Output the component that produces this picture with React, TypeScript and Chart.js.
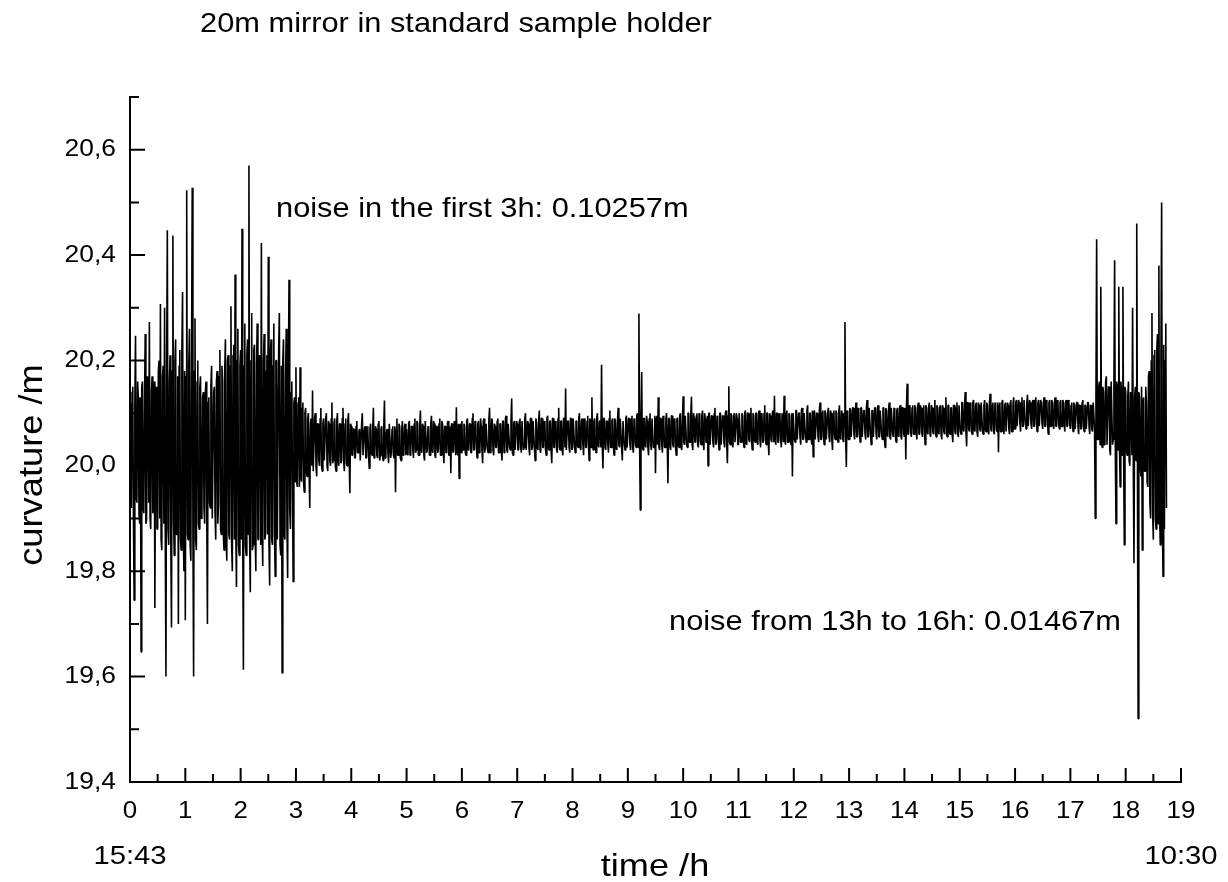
import React, { useEffect, useRef } from "react";
import { Chart, registerables } from "chart.js";

Chart.register(...registerables);

// ---- text ----
const titleText = "20m mirror in standard sample holder";
const noteFirst = "noise in the first 3h: 0.10257m";
const noteLater = "noise from 13h to 16h: 0.01467m";
const xAxisTitle = "time /h";
const yAxisTitle = "curvature /m";
const startClock = "15:43";
const endClock = "10:30";

// ---- ticks ----
const xMajorTicks = [0, 1, 2, 3, 4, 5, 6, 7, 8, 9, 10, 11, 12, 13, 14, 15, 16, 17, 18, 19];
const xMinorTicks = [0.5, 1.5, 2.5, 3.5, 4.5, 5.5, 6.5, 7.5, 8.5, 9.5, 10.5, 11.5, 12.5, 13.5, 14.5, 15.5, 16.5, 17.5, 18.5];
const yMajorTicks = [19.4, 19.6, 19.8, 20.0, 20.2, 20.4, 20.6];
const yMajorLabels = ["19,4", "19,6", "19,8", "20,0", "20,2", "20,4", "20,6"];
const yMinorTicks = [19.5, 19.7, 19.9, 20.1, 20.3, 20.5, 20.7];

// ---- data: curvature (m), one block per hour, 80 samples per hour ----
const samplesPerHour = 80;

const h00 = [20.12, 19.93, 19.92, 20.14, 20.15, 19.90, 19.745, 20.11, 20.247, 19.94,
  19.93, 20.16, 20.13, 19.91, 19.89, 20.13, 19.647, 20.15, 20.16, 19.92,
  19.91, 20.12, 20.25, 19.89, 19.90, 20.17, 20.14, 19.93, 20.273, 19.90,
  19.88, 20.14, 20.17, 19.91, 19.93, 20.16, 19.73, 20.13, 20.15, 19.88,
  19.88, 20.18, 20.20, 19.90, 20.307, 19.86, 19.84, 20.17, 20.19, 19.89,
  20.30, 19.87, 19.60, 20.19, 20.447, 19.88, 19.85, 20.16, 20.21, 19.86,
  19.693, 20.18, 20.437, 19.90, 19.83, 20.20, 20.24, 19.87, 19.87, 20.17,
  19.70, 20.19, 20.22, 19.86, 19.84, 20.21, 20.33, 19.88, 19.80, 20.18];
const h01 = [19.707, 20.17, 20.523, 19.87, 19.86, 20.19, 20.26, 19.85, 19.82, 20.20,
  20.528, 19.88, 19.60, 20.18, 20.28, 19.86, 19.84, 20.16, 20.20, 19.89,
  19.88, 20.15, 20.17, 19.90, 19.91, 20.13, 20.14, 19.92, 19.89, 20.14,
  20.16, 19.91, 19.70, 20.12, 20.13, 19.93, 19.92, 20.15, 20.19, 19.90,
  19.90, 20.14, 20.15, 19.91, 19.86, 20.16, 20.18, 19.89, 19.93, 20.17,
  20.22, 19.88, 19.87, 20.19, 20.16, 19.87, 19.84, 20.18, 20.24, 19.86,
  19.82, 20.20, 20.21, 19.87, 19.86, 20.19, 20.303, 19.85, 19.80, 20.21,
  20.23, 19.86, 20.363, 19.88, 19.77, 20.20, 20.26, 19.85, 19.83, 20.19];
const h02 = [20.22, 19.86, 20.45, 19.88, 19.613, 20.19, 20.27, 19.85, 19.83, 20.21,
  20.24, 19.87, 20.57, 19.86, 19.76, 20.20, 20.29, 19.84, 19.85, 20.22,
  20.23, 19.87, 19.80, 20.19, 20.27, 19.86, 19.86, 20.21, 20.20, 19.85,
  20.423, 19.88, 19.81, 20.20, 20.25, 19.86, 19.87, 20.18, 20.21, 19.87,
  20.397, 19.85, 19.773, 20.21, 20.24, 19.86, 19.85, 20.19, 20.27, 19.87,
  19.79, 20.20, 20.20, 19.86, 19.86, 20.22, 20.29, 19.85, 19.83, 20.19,
  19.607, 20.20, 20.24, 19.87, 19.86, 20.17, 20.26, 19.88, 19.787, 20.16,
  20.353, 19.92, 19.88, 20.14, 20.16, 19.95, 19.78, 20.12, 20.13, 19.97];
const h03 = [20.187, 19.97, 19.96, 20.12, 20.13, 19.96, 20.187, 19.98, 19.97, 20.11,
  20.12, 19.97, 19.95, 20.10, 20.11, 19.99, 19.98, 20.09, 20.10, 19.99,
  19.92, 20.08, 20.09, 20.00, 20.143, 19.99, 19.99, 20.09, 20.10, 20.00,
  19.98, 20.08, 20.08, 20.01, 20.00, 20.09, 20.11, 20.00, 19.99, 20.08,
  20.09, 20.01, 20.01, 20.09, 20.10, 20.00, 19.99, 20.085, 20.08, 20.01,
  20.00, 20.09, 20.12, 20.005, 20.01, 20.08, 20.09, 20.00, 19.99, 20.085,
  20.10, 20.01, 20.00, 20.08, 20.08, 20.005, 20.01, 20.09, 20.11, 20.01,
  19.99, 20.08, 20.09, 20.005, 20.00, 20.085, 20.10, 20.01, 19.948, 20.08];
const h04 = [20.075, 20.02, 20.02, 20.07, 20.07, 20.015, 20.015, 20.075, 20.085, 20.025,
  20.025, 20.065, 20.07, 20.01, 20.01, 20.08, 20.10, 20.02, 20.02, 20.07,
  20.075, 20.015, 20.015, 20.075, 20.065, 20.02, 19.995, 20.07, 20.08, 20.025,
  20.02, 20.065, 20.11, 20.015, 20.025, 20.075, 20.07, 20.02, 20.015, 20.08,
  20.085, 20.01, 20.02, 20.07, 20.075, 20.02, 20.01, 20.075, 20.124, 20.015,
  20.02, 20.065, 20.07, 20.025, 20.005, 20.08, 20.08, 20.015, 20.025, 20.07,
  20.075, 20.02, 20.015, 20.075, 19.95, 20.07, 20.09, 20.02, 20.02, 20.08,
  20.075, 20.015, 20.01, 20.07, 20.085, 20.02, 20.025, 20.075, 20.08, 20.02];
const h05 = [20.07, 20.025, 20.02, 20.08, 20.085, 20.02, 20.025, 20.075, 20.075, 20.03,
  20.015, 20.08, 20.09, 20.025, 20.03, 20.085, 20.08, 20.02, 20.02, 20.075,
  20.105, 20.03, 20.025, 20.08, 20.075, 20.02, 20.01, 20.085, 20.085, 20.025,
  20.03, 20.075, 20.07, 20.02, 20.02, 20.08, 20.095, 20.03, 20.025, 20.085,
  20.08, 20.02, 20.015, 20.075, 20.075, 20.025, 20.03, 20.08, 20.09, 20.02,
  20.02, 20.085, 20.08, 20.03, 20.005, 20.075, 20.075, 20.025, 20.025, 20.08,
  20.085, 20.02, 20.02, 20.075, 19.986, 20.08, 20.08, 20.025, 20.03, 20.085,
  20.075, 20.02, 20.111, 20.03, 20.02, 20.08, 19.976, 20.075, 20.08, 20.025];
const h06 = [20.085, 20.03, 20.03, 20.08, 20.075, 20.025, 20.02, 20.085, 20.09, 20.03,
  20.035, 20.08, 20.08, 20.025, 20.025, 20.09, 20.10, 20.03, 20.03, 20.085,
  20.08, 20.035, 20.015, 20.08, 20.085, 20.025, 20.03, 20.09, 20.075, 20.03,
  20.005, 20.085, 20.09, 20.025, 20.035, 20.08, 20.08, 20.03, 20.025, 20.085,
  20.11, 20.025, 20.03, 20.09, 20.085, 20.03, 20.02, 20.08, 20.075, 20.035,
  20.035, 20.085, 20.09, 20.025, 20.025, 20.08, 20.08, 20.03, 20.01, 20.085,
  20.085, 20.025, 20.03, 20.09, 20.095, 20.03, 20.025, 20.08, 20.08, 20.035,
  20.03, 20.085, 20.128, 20.025, 20.02, 20.08, 20.085, 20.03, 20.03, 20.085];
const h07 = [20.08, 20.03, 20.03, 20.085, 20.09, 20.035, 20.025, 20.085, 20.085, 20.03,
  20.035, 20.09, 20.10, 20.03, 20.03, 20.085, 20.08, 20.035, 20.02, 20.09,
  20.09, 20.03, 20.035, 20.085, 20.085, 20.03, 20.01, 20.09, 20.08, 20.035,
  20.03, 20.085, 20.105, 20.03, 20.025, 20.09, 20.09, 20.035, 20.035, 20.085,
  20.08, 20.03, 20.02, 20.09, 20.095, 20.035, 20.03, 20.085, 20.085, 20.03,
  20.005, 20.09, 20.09, 20.035, 20.035, 20.085, 20.08, 20.03, 20.025, 20.09,
  20.11, 20.035, 20.03, 20.085, 20.085, 20.03, 20.02, 20.09, 20.09, 20.035,
  20.147, 20.03, 20.03, 20.085, 20.085, 20.035, 20.025, 20.09, 20.09, 20.03];
const h08 = [20.035, 20.09, 20.09, 20.035, 20.025, 20.085, 20.085, 20.04, 20.035, 20.09,
  20.10, 20.035, 20.03, 20.085, 20.09, 20.04, 20.02, 20.09, 20.085, 20.035,
  20.035, 20.085, 20.095, 20.04, 20.01, 20.09, 20.085, 20.035, 20.13, 20.04,
  20.03, 20.085, 20.09, 20.035, 20.025, 20.09, 20.10, 20.04, 20.035, 20.085,
  20.085, 20.035, 20.192, 20.04, 19.995, 20.09, 20.09, 20.035, 20.03, 20.085,
  20.085, 20.04, 20.025, 20.09, 20.105, 20.035, 20.035, 20.085, 20.09, 20.04,
  20.02, 20.09, 20.085, 20.035, 20.03, 20.085, 20.11, 20.04, 20.035, 20.09,
  20.09, 20.035, 20.01, 20.085, 20.085, 20.04, 20.03, 20.09, 20.095, 20.035];
const h09 = [20.035, 20.09, 20.09, 20.04, 20.03, 20.09, 20.095, 20.035, 20.025, 20.09,
  20.085, 20.04, 20.035, 20.095, 20.10, 20.035, 20.289, 20.04, 19.916, 20.09,
  20.178, 20.035, 20.03, 20.09, 20.09, 20.04, 20.035, 20.095, 20.085, 20.035,
  20.02, 20.09, 20.10, 20.04, 20.03, 20.09, 20.09, 20.035, 20.035, 20.095,
  19.986, 20.09, 20.095, 20.04, 20.13, 20.035, 20.03, 20.09, 20.09, 20.04,
  20.025, 20.095, 20.085, 20.035, 20.035, 20.09, 20.10, 20.04, 19.967, 20.09,
  20.09, 20.035, 20.03, 20.095, 20.095, 20.04, 20.035, 20.09, 20.085, 20.035,
  20.02, 20.09, 20.09, 20.04, 20.035, 20.095, 20.10, 20.035, 20.03, 20.09];
const h10 = [20.132, 20.045, 20.04, 20.095, 20.095, 20.04, 20.035, 20.10, 20.10, 20.045,
  20.045, 20.095, 20.131, 20.04, 20.03, 20.10, 20.09, 20.045, 20.045, 20.095,
  20.10, 20.04, 20.035, 20.10, 20.095, 20.045, 20.04, 20.095, 20.105, 20.04,
  20.03, 20.10, 20.09, 20.045, 20.045, 20.095, 20.00, 20.10, 20.10, 20.04,
  20.04, 20.095, 20.095, 20.045, 20.035, 20.10, 20.11, 20.04, 20.045, 20.095,
  20.09, 20.045, 20.03, 20.10, 20.10, 20.04, 20.04, 20.095, 20.095, 20.045,
  20.035, 20.10, 20.105, 20.04, 20.005, 20.095, 20.151, 20.045, 20.04, 20.10,
  20.095, 20.04, 20.035, 20.095, 20.10, 20.045, 20.045, 20.10, 20.09, 20.04];
const h11 = [20.04, 20.10, 20.10, 20.045, 20.045, 20.10, 20.095, 20.05, 20.035, 20.10,
  20.105, 20.045, 20.04, 20.10, 20.10, 20.05, 20.045, 20.10, 20.11, 20.045,
  20.03, 20.10, 20.095, 20.05, 20.045, 20.10, 20.10, 20.045, 20.04, 20.10,
  20.105, 20.05, 20.035, 20.10, 20.095, 20.045, 20.045, 20.10, 20.115, 20.05,
  20.04, 20.10, 20.10, 20.045, 20.02, 20.10, 20.095, 20.05, 20.045, 20.10,
  20.105, 20.045, 20.133, 20.05, 20.04, 20.10, 20.10, 20.045, 20.045, 20.10,
  20.095, 20.05, 20.035, 20.10, 20.10, 20.045, 20.133, 20.05, 20.04, 20.10,
  20.105, 20.045, 20.045, 20.10, 20.095, 20.05, 20.04, 20.10, 19.98, 20.10];
const h12 = [20.10, 20.05, 20.045, 20.105, 20.105, 20.05, 20.05, 20.10, 20.10, 20.055,
  20.04, 20.105, 20.11, 20.05, 20.05, 20.10, 20.10, 20.055, 20.045, 20.105,
  20.115, 20.05, 20.05, 20.10, 20.10, 20.055, 20.04, 20.105, 20.017, 20.10,
  20.105, 20.05, 20.05, 20.10, 20.10, 20.055, 20.045, 20.105, 20.12, 20.05,
  20.05, 20.10, 20.105, 20.055, 20.04, 20.105, 20.10, 20.05, 20.05, 20.10,
  20.11, 20.055, 20.045, 20.105, 20.10, 20.05, 20.03, 20.10, 20.105, 20.055,
  20.05, 20.105, 20.10, 20.05, 20.045, 20.10, 20.115, 20.055, 20.05, 20.105,
  20.10, 20.05, 20.045, 20.10, 20.273, 20.055, 19.998, 20.105, 20.10, 20.05];
const h13 = [20.05, 20.11, 20.105, 20.055, 20.055, 20.11, 20.11, 20.06, 20.05, 20.105,
  20.12, 20.055, 20.055, 20.11, 20.105, 20.06, 20.045, 20.11, 20.11, 20.055,
  20.055, 20.105, 20.105, 20.06, 20.05, 20.11, 20.125, 20.055, 20.055, 20.11,
  20.11, 20.06, 20.04, 20.105, 20.105, 20.055, 20.055, 20.11, 20.11, 20.06,
  20.05, 20.11, 20.115, 20.055, 20.055, 20.105, 20.105, 20.06, 20.05, 20.11,
  20.11, 20.055, 20.035, 20.11, 20.105, 20.06, 20.055, 20.105, 20.12, 20.055,
  20.05, 20.11, 20.11, 20.06, 20.055, 20.11, 20.105, 20.055, 20.045, 20.105,
  20.11, 20.06, 20.055, 20.11, 20.115, 20.055, 20.05, 20.11, 20.11, 20.06];
const h14 = [20.055, 20.11, 20.012, 20.115, 20.156, 20.06, 20.06, 20.115, 20.11, 20.065,
  20.055, 20.11, 20.115, 20.06, 20.06, 20.115, 20.11, 20.065, 20.05, 20.11,
  20.12, 20.06, 20.06, 20.115, 20.11, 20.065, 20.055, 20.11, 20.115, 20.06,
  20.04, 20.115, 20.11, 20.065, 20.06, 20.11, 20.12, 20.06, 20.055, 20.115,
  20.11, 20.065, 20.06, 20.11, 20.125, 20.06, 20.055, 20.115, 20.11, 20.065,
  20.06, 20.11, 20.115, 20.06, 20.05, 20.115, 20.11, 20.065, 20.06, 20.11,
  20.13, 20.06, 20.055, 20.115, 20.115, 20.065, 20.06, 20.11, 20.11, 20.06,
  20.045, 20.115, 20.115, 20.065, 20.06, 20.11, 20.12, 20.06, 20.055, 20.115];
const h15 = [20.115, 20.065, 20.06, 20.12, 20.12, 20.07, 20.065, 20.115, 20.14, 20.065,
  20.037, 20.12, 20.12, 20.07, 20.065, 20.12, 20.115, 20.065, 20.06, 20.12,
  20.125, 20.07, 20.065, 20.115, 20.12, 20.065, 20.055, 20.12, 20.115, 20.07,
  20.065, 20.12, 20.12, 20.065, 20.06, 20.115, 20.125, 20.07, 20.065, 20.12,
  20.115, 20.065, 20.06, 20.12, 20.137, 20.07, 20.065, 20.115, 20.12, 20.065,
  20.06, 20.12, 20.115, 20.07, 20.065, 20.12, 20.026, 20.115, 20.12, 20.065,
  20.065, 20.12, 20.125, 20.07, 20.06, 20.115, 20.12, 20.065, 20.065, 20.12,
  20.115, 20.07, 20.06, 20.12, 20.125, 20.065, 20.065, 20.115, 20.13, 20.07];
const h16 = [20.07, 20.12, 20.125, 20.075, 20.075, 20.125, 20.12, 20.08, 20.065, 20.12,
  20.13, 20.075, 20.075, 20.125, 20.125, 20.08, 20.07, 20.12, 20.135, 20.075,
  20.075, 20.125, 20.12, 20.08, 20.07, 20.12, 20.125, 20.075, 20.075, 20.125,
  20.13, 20.08, 20.065, 20.12, 20.125, 20.075, 20.075, 20.125, 20.12, 20.08,
  20.07, 20.12, 20.13, 20.075, 20.075, 20.125, 20.12, 20.08, 20.06, 20.12,
  20.125, 20.075, 20.075, 20.125, 20.12, 20.08, 20.07, 20.12, 20.13, 20.075,
  20.075, 20.125, 20.12, 20.08, 20.07, 20.12, 20.125, 20.075, 20.075, 20.125,
  20.12, 20.08, 20.065, 20.12, 20.125, 20.075, 20.075, 20.125, 20.12, 20.08];
const h17 = [20.07, 20.115, 20.12, 20.075, 20.065, 20.12, 20.115, 20.07, 20.07, 20.12,
  20.12, 20.075, 20.06, 20.115, 20.115, 20.07, 20.07, 20.12, 20.125, 20.075,
  20.065, 20.115, 20.115, 20.07, 20.07, 20.12, 20.12, 20.075, 20.06, 20.115,
  20.115, 20.07, 20.065, 20.12, 20.12, 20.07, 19.90, 20.13, 20.43, 20.05,
  20.05, 20.15, 20.16, 20.04, 20.34, 20.05, 20.035, 20.15, 20.14, 20.04,
  20.05, 20.16, 20.17, 20.04, 20.04, 20.15, 20.15, 20.03, 20.02, 20.16,
  20.16, 20.04, 20.05, 20.15, 20.39, 20.03, 19.89, 20.16, 20.15, 20.03,
  20.34, 20.04, 19.96, 20.16, 20.14, 20.02, 20.34, 20.03, 19.85, 20.15];
const h18 = [20.14, 20.03, 20.02, 20.13, 20.16, 20.01, 20.00, 20.14, 20.12, 20.02,
  20.30, 20.00, 19.815, 20.13, 20.15, 20.01, 20.46, 20.02, 19.52, 20.14,
  20.13, 20.00, 19.98, 20.15, 19.84, 20.12, 20.13, 19.99, 19.99, 20.15,
  20.12, 19.97, 19.96, 20.17, 20.18, 19.93, 19.90, 20.20, 20.29, 19.91,
  19.86, 20.21, 20.22, 19.90, 19.88, 20.22, 20.25, 19.89, 20.38, 19.92,
  19.85, 20.21, 20.50, 19.90, 19.79, 20.23, 19.88, 20.20, 20.27, 19.92];

const hourBlocks = [h00, h01, h02, h03, h04, h05, h06, h07, h08, h09, h10, h11, h12, h13, h14, h15, h16, h17, h18];

const FONT = "'Liberation Sans', Arial, Helvetica, sans-serif";

function drawStretched(
  ctx: CanvasRenderingContext2D,
  text: string,
  x: number,
  y: number,
  size: number,
  sx: number,
  align: "left" | "center" | "right",
  baseline: CanvasTextBaseline = "alphabetic"
) {
  ctx.save();
  ctx.font = `${size}px ${FONT}`;
  ctx.textBaseline = baseline;
  ctx.textAlign = "left";
  const w = ctx.measureText(text).width * sx;
  const left = align === "center" ? x - w / 2 : align === "right" ? x - w : x;
  ctx.translate(left, y);
  ctx.scale(sx, 1);
  ctx.fillStyle = "#000";
  ctx.fillText(text, 0, 0);
  ctx.restore();
}

const axesPlugin = {
  id: "originAxes",
  afterDraw(chart: any) {
    const ctx: CanvasRenderingContext2D = chart.ctx;
    const xs = chart.scales.x;
    const ys = chart.scales.y;
    const x0 = xs.getPixelForValue(0);
    const x1 = xs.getPixelForValue(19);
    const yb = ys.getPixelForValue(19.4);
    const yt = ys.getPixelForValue(20.7);
    ctx.save();
    ctx.strokeStyle = "#000";
    ctx.lineWidth = 2;
    ctx.lineCap = "butt";
    ctx.beginPath();
    ctx.moveTo(x0, yt - 1);
    ctx.lineTo(x0, yb + 1);
    ctx.moveTo(x0 - 1, yb);
    ctx.lineTo(x1 + 1, yb);
    xMajorTicks.forEach((v) => {
      const px = xs.getPixelForValue(v);
      ctx.moveTo(px, yb);
      ctx.lineTo(px, yb - 14);
    });
    xMinorTicks.forEach((v) => {
      const px = xs.getPixelForValue(v);
      ctx.moveTo(px, yb);
      ctx.lineTo(px, yb - 8);
    });
    yMajorTicks.forEach((v) => {
      const py = ys.getPixelForValue(v);
      ctx.moveTo(x0, py);
      ctx.lineTo(x0 + 15, py);
    });
    yMinorTicks.forEach((v) => {
      const py = ys.getPixelForValue(v);
      ctx.moveTo(x0, py);
      ctx.lineTo(x0 + 9, py);
    });
    ctx.stroke();
    ctx.restore();

    xMajorTicks.forEach((v) => {
      drawStretched(ctx, String(v), xs.getPixelForValue(v), yb + 29, 24, 1.08, "center", "middle");
    });
    yMajorTicks.forEach((v, i) => {
      drawStretched(ctx, yMajorLabels[i], x0 - 14, ys.getPixelForValue(v), 24, 1.1, "right", "middle");
    });

    drawStretched(ctx, startClock, x0, 857, 25, 1.17, "center", "middle");
    drawStretched(ctx, endClock, x1, 857, 25, 1.17, "center", "middle");

    drawStretched(ctx, xAxisTitle, 655, 876, 32, 1.13, "center");
    ctx.save();
    ctx.translate(42, 465);
    ctx.rotate(-Math.PI / 2);
    drawStretched(ctx, yAxisTitle, 0, 0, 33, 1.1, "center");
    ctx.restore();

    drawStretched(ctx, titleText, 200, 32, 28, 1.1, "left");
    drawStretched(ctx, noteFirst, 276, 217, 28, 1.1, "left");
    drawStretched(ctx, noteLater, 669, 630, 28, 1.1, "left");
  },
};

export default function App() {
  const canvasRef = useRef<HTMLCanvasElement | null>(null);

  useEffect(() => {
    const canvas = canvasRef.current;
    if (!canvas) return;
    const points = hourBlocks.flatMap((block, h) =>
      block.map((v, j) => ({ x: h + j / samplesPerHour, y: v }))
    );
    const chart = new Chart(canvas, {
      type: "line",
      data: {
        datasets: [
          {
            data: points,
            borderColor: "#000",
            borderWidth: 1.6,
            pointRadius: 0,
            tension: 0,
            fill: false,
            borderJoinStyle: "bevel",
          },
        ],
      },
      options: {
        animation: false,
        responsive: false,
        devicePixelRatio: 1,
        parsing: false,
        normalized: true,
        layout: { padding: { left: 130, right: 47, top: 97, bottom: 100 } },
        scales: {
          x: { type: "linear", min: 0, max: 19, display: false },
          y: { type: "linear", min: 19.4, max: 20.7, display: false },
        },
        plugins: {
          legend: { display: false },
          tooltip: { enabled: false },
          title: { display: false },
        },
      },
      plugins: [axesPlugin],
    });
    return () => chart.destroy();
  }, []);

  return (
    <div style={{ position: "fixed", left: 0, top: 0, width: 1228, height: 882, background: "#fff" }}>
      <canvas ref={canvasRef} width={1228} height={882} style={{ width: 1228, height: 882 }} />
    </div>
  );
}
